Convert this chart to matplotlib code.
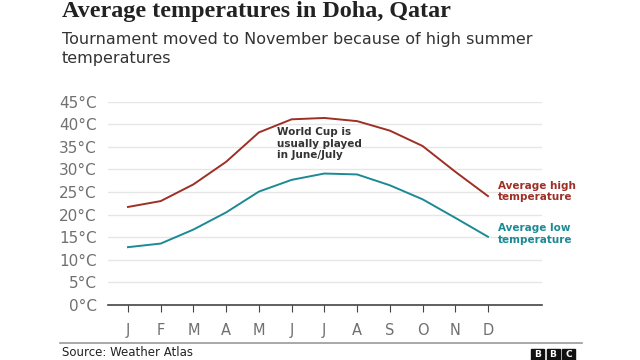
import matplotlib.pyplot as plt
from matplotlib.patches import Rectangle

months = ["J", "F", "M", "A", "M", "J", "J", "A", "S", "O", "N", "D"]
avg_high = [21.7, 23.0, 26.7, 31.7, 38.2, 41.1, 41.4, 40.7, 38.6, 35.2, 29.5, 24.1]
avg_low = [12.8, 13.6, 16.7, 20.5, 25.1, 27.7, 29.1, 28.9, 26.5, 23.4, 19.3, 15.1]
yticks = [0, 5, 10, 15, 20, 25, 30, 35, 40, 45]

high_col = "#9e2f26"
low_col = "#1b8a94"

fig = plt.figure(figsize=(6.4, 3.6), dpi=100)
ax = fig.add_axes([108 / 640, 1 - 305 / 360, 434 / 640, 203.3 / 360])

x = list(range(len(months)))
ax.plot(x, avg_high, color=high_col, lw=1.4)
ax.plot(x, avg_low, color=low_col, lw=1.4)

ax.set_xlim(-0.61, 12.65)
ax.set_ylim(0, 45)
ax.set_yticks(yticks)
ax.set_yticklabels([f"{t}°C" for t in yticks])
ax.set_xticks(x)
ax.set_xticklabels(months)
ax.grid(axis="y", color="#e6e6e6", lw=1)
ax.set_axisbelow(True)
for s in ["top", "right", "left"]:
    ax.spines[s].set_visible(False)
ax.spines["bottom"].set_color("#444444")
ax.spines["bottom"].set_linewidth(1.2)
ax.tick_params(axis="y", length=0, labelsize=11, labelcolor="#707070", pad=8)
ax.tick_params(axis="x", length=5, color="#444444", labelsize=10.5,
               labelcolor="#707070", pad=8)

ax.text(4.55, 39.3, "World Cup is\nusually played\nin June/July", fontsize=7.5,
        fontweight="bold", color="#333333", va="top", ha="left", linespacing=1.15)
ax.text(11.3, 25.2, "Average high\ntemperature", fontsize=7.5, fontweight="bold",
        color=high_col, va="center", ha="left", linespacing=1.15)
ax.text(11.3, 15.7, "Average low\ntemperature", fontsize=7.5, fontweight="bold",
        color=low_col, va="center", ha="left", linespacing=1.15)

fig.text(62 / 640, 1 - 12 / 360, "Average temperatures in Doha, Qatar",
         fontsize=17.4, family="Liberation Serif", fontweight="bold",
         color="#222222", va="center")
fig.text(62 / 640, 1 - 32 / 360,
         "Tournament moved to November because of high summer\ntemperatures",
         fontsize=11.5, color="#333333", va="top", linespacing=1.3)

fig.add_artist(plt.Line2D([60 / 640, 582 / 640], [1 - 343 / 360, 1 - 343 / 360],
                          color="#999999", lw=1.2))
fig.text(62 / 640, 1 - 353 / 360, "Source: Weather Atlas", fontsize=8.5,
         color="#222222", va="center")
for i, letter in enumerate("BBC"):
    x0 = (531 + i * 15.5) / 640
    fig.add_artist(Rectangle((x0, 1 - 360 / 360), 13 / 640, 11 / 360,
                             transform=fig.transFigure, color="#111111"))
    fig.text(x0 + 6.5 / 640, 1 - 354.5 / 360, letter, fontsize=6.5,
             fontweight="bold", color="white", ha="center", va="center")

fig.savefig("out.png", dpi=100)
